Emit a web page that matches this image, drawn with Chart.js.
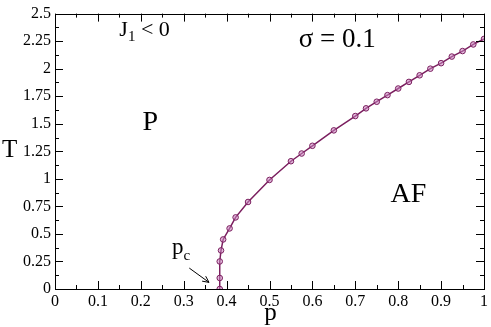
<!DOCTYPE html>
<html>
<head>
<meta charset="utf-8">
<script src="https://cdn.jsdelivr.net/npm/chart.js"></script>
<style>
  body { margin: 0; background: #fff; }
  #wrap { width: 491px; height: 327px; }
</style>
</head>
<body>
<div id="wrap"><canvas id="phaseChart" width="491" height="327"></canvas></div>
<script>
// phase boundary T(p)
const pValues = [0.384, 0.384, 0.384, 0.387, 0.392, 0.407, 0.421, 0.45, 0.5, 0.55, 0.575, 0.6,
                 0.65, 0.7, 0.725, 0.75, 0.775, 0.8, 0.825, 0.85, 0.875, 0.9, 0.925, 0.95, 0.975, 1.0];
const tValues = [0, 0.10, 0.25, 0.35, 0.45, 0.55, 0.65, 0.79, 0.99, 1.16, 1.23, 1.30,
                 1.44, 1.57, 1.64, 1.70, 1.76, 1.82, 1.88, 1.94, 2.0, 2.05, 2.11, 2.16, 2.22, 2.27];
const xTicks = [0, 0.1, 0.2, 0.3, 0.4, 0.5, 0.6, 0.7, 0.8, 0.9, 1];
const xTickLabels = ['0', '0.1', '0.2', '0.3', '0.4', '0.5', '0.6', '0.7', '0.8', '0.9', '1'];
const yTicks = [0, 0.25, 0.5, 0.75, 1, 1.25, 1.5, 1.75, 2, 2.25, 2.5];
const yTickLabels = ['0', '0.25', '0.5', '0.75', '1', '1.25', '1.5', '1.75', '2', '2.25', '2.5'];

const serif = '"Liberation Serif", "DejaVu Serif", serif';
const lineColor = '#7b1f5f';

const points = pValues.map((p, i) => ({ x: p, y: tValues[i] }));

// frame, inward ticks on all four sides, and the text labels
const decorations = {
  id: 'decorations',
  afterDraw(chart) {
    const ctx = chart.ctx;
    const a = chart.chartArea;
    const xs = chart.scales.x, ys = chart.scales.y;
    ctx.save();
    ctx.strokeStyle = '#000';
    ctx.lineWidth = 1;
    ctx.strokeRect(Math.round(a.left) + 0.5, Math.round(a.top) + 0.5,
                   Math.round(a.right - a.left), Math.round(a.bottom - a.top));

    ctx.beginPath();
    for (let i = 0; i <= 20; i++) {
      const px = Math.round(xs.getPixelForValue(i * 0.05)) + 0.5;
      const len = i % 2 === 0 ? 8 : 4;
      ctx.moveTo(px, a.bottom); ctx.lineTo(px, a.bottom - len);
      ctx.moveTo(px, a.top); ctx.lineTo(px, a.top + len);
    }
    for (let i = 0; i <= 20; i++) {
      const py = Math.round(ys.getPixelForValue(i * 0.125)) + 0.5;
      const len = i % 2 === 0 ? 8 : 4;
      ctx.moveTo(a.left, py); ctx.lineTo(a.left + len, py);
      ctx.moveTo(a.right, py); ctx.lineTo(a.right - len, py);
    }
    ctx.stroke();

    ctx.fillStyle = '#000';
    ctx.textBaseline = 'alphabetic';
    ctx.textAlign = 'left';
    const X = v => xs.getPixelForValue(v);
    const Y = v => ys.getPixelForValue(v);

    // J1 < 0
    ctx.font = '22px ' + serif;
    let x0 = X(0.15), y0 = Y(2.30);
    ctx.fillText('J', x0, y0);
    let w = ctx.measureText('J').width;
    ctx.font = '15px ' + serif;
    ctx.fillText('1', x0 + w, y0 + 5);
    w += ctx.measureText('1').width;
    ctx.font = '22px ' + serif;
    ctx.fillText(' < 0', x0 + w, y0);

    ctx.font = '27px ' + serif;
    ctx.fillText('\u03c3 = 0.1', X(0.568), Y(2.20));

    ctx.font = '28px ' + serif;
    ctx.fillText('P', X(0.204), Y(1.44));
    ctx.fillText('AF', X(0.782), Y(0.79));

    // p_c with arrow
    ctx.font = '23px ' + serif;
    x0 = X(0.273); y0 = Y(0.32);
    ctx.fillText('p', x0, y0);
    w = ctx.measureText('p').width;
    ctx.font = '15px ' + serif;
    ctx.fillText('c', x0 + w, y0 + 6);

    const ax0 = X(0.313), ay0 = Y(0.19), ax1 = X(0.359), ay1 = Y(0.06);
    ctx.beginPath();
    ctx.moveTo(ax0, ay0); ctx.lineTo(ax1, ay1);
    const ang = Math.atan2(ay1 - ay0, ax1 - ax0);
    ctx.moveTo(ax1, ay1); ctx.lineTo(ax1 - 7 * Math.cos(ang - 0.45), ay1 - 7 * Math.sin(ang - 0.45));
    ctx.moveTo(ax1, ay1); ctx.lineTo(ax1 - 7 * Math.cos(ang + 0.45), ay1 - 7 * Math.sin(ang + 0.45));
    ctx.stroke();

    // axis titles
    ctx.font = '25px ' + serif;
    ctx.textAlign = 'center';
    ctx.fillText('p', (a.left + a.right) / 2 + 1, 320);
    ctx.textAlign = 'left';
    ctx.fillText('T', 2, 157);
    ctx.restore();
  }
};

new Chart(document.getElementById('phaseChart'), {
  type: 'scatter',
  data: {
    datasets: [{
      data: points,
      showLine: true,
      borderColor: lineColor,
      borderWidth: 1.5,
      pointRadius: 2.8,
      pointBorderWidth: 1,
      pointBorderColor: lineColor,
      pointBackgroundColor: 'rgba(200, 130, 190, 0.55)',
      tension: 0
    }]
  },
  options: {
    responsive: false,
    animation: false,
    events: [],
    layout: { padding: { top: 6, right: 5, left: 0, bottom: 0 } },
    plugins: { legend: { display: false }, tooltip: { enabled: false } },
    scales: {
      x: {
        type: 'linear', min: 0, max: 1,
        afterBuildTicks: s => { s.ticks = xTicks.map(v => ({ value: v })); },
        afterTickToLabelConversion: s => { s.ticks.forEach((t, i) => { t.label = xTickLabels[i]; }); },
        afterFit: s => { s.height = 38; },
        grid: { display: false, drawTicks: false },
        border: { display: false },
        ticks: {
          autoSkip: false, maxRotation: 0, padding: 3,
          color: '#000', font: { family: serif, size: 16 }
        }
      },
      y: {
        type: 'linear', min: 0, max: 2.5,
        afterBuildTicks: s => { s.ticks = yTicks.map(v => ({ value: v })); },
        afterTickToLabelConversion: s => { s.ticks.forEach((t, i) => { t.label = yTickLabels[i]; }); },
        afterFit: s => { s.width = 55; },
        grid: { display: false, drawTicks: false },
        border: { display: false },
        ticks: {
          autoSkip: false, padding: 4,
          color: '#000', font: { family: serif, size: 16 }
        }
      }
    }
  },
  plugins: [decorations]
});
</script>
</body>
</html>
